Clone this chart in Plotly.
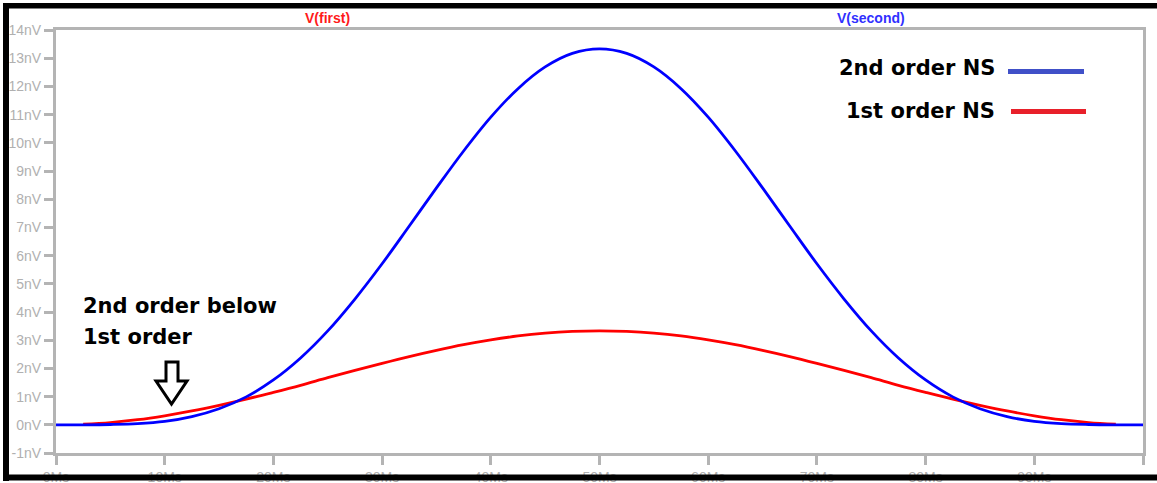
import plotly.graph_objects as go

# ---- data (Ms, nV) ----
x_second = [0, 2.5, 5, 7.5, 10, 12.5, 15, 17.5, 20, 22.5, 25, 27.5, 30, 32.5, 35, 37.5, 40,
            42.5, 45, 47.5, 50, 52.5, 55, 57.5, 60, 62.5, 65, 67.5, 70, 72.5, 75, 77.5, 80,
            82.5, 85, 87.5, 90, 92.5, 95, 97.5, 100]
v_second = [0, 0.00, 0.01, 0.04, 0.12, 0.29, 0.57, 0.99, 1.59, 2.37, 3.33, 4.46, 5.71, 7.05,
            8.40, 9.71, 10.91, 11.92, 12.69, 13.17, 13.33, 13.17, 12.69, 11.92, 10.91, 9.71,
            8.40, 7.05, 5.71, 4.46, 3.33, 2.37, 1.59, 0.99, 0.57, 0.29, 0.12, 0.04, 0.01, 0.00, 0]

x_first = [2.5, 5, 7.5, 10, 12.5, 15, 17.5, 20, 22.5, 25, 27.5, 30, 32.5, 35, 37.5, 40,
           42.5, 45, 47.5, 50, 52.5, 55, 57.5, 60, 62.5, 65, 67.5, 70, 72.5, 75, 77.5, 80,
           82.5, 85, 87.5, 90, 92.5, 95, 97.5]
v_first = [0.02, 0.08, 0.18, 0.32, 0.49, 0.69, 0.91, 1.15, 1.40, 1.67, 1.93, 2.18, 2.42, 2.64,
           2.84, 3.01, 3.15, 3.25, 3.31, 3.33, 3.31, 3.25, 3.15, 3.01, 2.84, 2.64, 2.42, 2.18,
           1.93, 1.67, 1.40, 1.15, 0.91, 0.69, 0.49, 0.32, 0.18, 0.08, 0.02]

x_tick_vals = [0, 10, 20, 30, 40, 50, 60, 70, 80, 90, 100]
x_tick_text = ["0Ms", "10Ms", "20Ms", "30Ms", "40Ms", "50Ms", "60Ms", "70Ms", "80Ms", "90Ms", "100Ms"]
y_tick_vals = [-1, 0, 1, 2, 3, 4, 5, 6, 7, 8, 9, 10, 11, 12, 13, 14]
y_tick_text = ["-1nV", "0nV", "1nV", "2nV", "3nV", "4nV", "5nV", "6nV", "7nV", "8nV",
               "9nV", "10nV", "11nV", "12nV", "13nV", "14nV"]

series_names = ["V(first)", "V(second)"]
legend_labels = ["2nd order NS", "1st order NS"]
note_lines = ["2nd order below", "1st order"]

# ---- layout geometry (pixels) ----
W, H = 1157, 483
L, R, T, B = 56, 1143, 30, 453


def px(xp):
    return (xp - L) / (R - L)


def py(yp):
    return (B - yp) / (B - T)


GRAY = "#b4b4b4"
TICKFONT = dict(family="Liberation Sans, Arial", size=14, color="#b0b0b0")
BIG = dict(family="DejaVu Sans", size=21, color="black")

fig = go.Figure()
fig.add_trace(go.Scatter(x=x_first, y=v_first, mode="lines", name=series_names[0],
                         line=dict(color="#ff0000", width=2.8, shape="spline", smoothing=1.0),
                         showlegend=False, hoverinfo="skip"))
fig.add_trace(go.Scatter(x=x_second, y=v_second, mode="lines", name=series_names[1],
                         line=dict(color="#0000ff", width=2.8, shape="spline", smoothing=1.0),
                         showlegend=False, hoverinfo="skip"))

axis_common = dict(showline=True, linecolor=GRAY, linewidth=3, mirror=True,
                   ticks="outside", ticklen=9, tickwidth=3, tickcolor=GRAY,
                   tickfont=TICKFONT, showgrid=False, zeroline=False, fixedrange=True,
                   automargin=False)

fig.update_xaxes(range=[0, 100], tickmode="array", tickvals=x_tick_vals,
                 ticktext=x_tick_text, **axis_common)
fig.update_yaxes(range=[-1, 14], tickmode="array", tickvals=y_tick_vals,
                 ticktext=y_tick_text, **axis_common)

annotations = [
    dict(text="<b>" + series_names[0] + "</b>", x=px(327), y=py(18), xanchor="center",
         yanchor="middle", font=dict(family="Liberation Sans, Arial", size=14, color="#ff1a1a")),
    dict(text="<b>" + series_names[1] + "</b>", x=px(871), y=py(18), xanchor="center",
         yanchor="middle", font=dict(family="Liberation Sans, Arial", size=14, color="#3030ff")),
    dict(text="<b>" + legend_labels[0] + "</b>", x=px(997), y=py(68), xanchor="right",
         yanchor="middle", font=BIG),
    dict(text="<b>" + legend_labels[1] + "</b>", x=px(997), y=py(111), xanchor="right",
         yanchor="middle", font=BIG),
    dict(text="<b>" + note_lines[0] + "</b>", x=px(81), y=py(306), xanchor="left",
         yanchor="middle", font=BIG),
    dict(text="<b>" + note_lines[1] + "</b>", x=px(81), y=py(337), xanchor="left",
         yanchor="middle", font=BIG),
]
for a in annotations:
    a.update(xref="paper", yref="paper", showarrow=False)

arrow_pts = [(166, 362), (178, 362), (178, 381), (187, 381), (171.5, 404), (156, 381), (166, 381)]
arrow_path = "M " + " L ".join(f"{px(a):.5f},{py(b):.5f}" for a, b in arrow_pts) + " Z"

shapes = [
    # legend swatches
    dict(type="line", x0=px(1008), x1=px(1084), y0=py(71.5), y1=py(71.5),
         line=dict(color="#4050c8", width=5)),
    dict(type="line", x0=px(1011), x1=px(1086), y0=py(111.5), y1=py(111.5),
         line=dict(color="#e8202a", width=5)),
    # arrow
    dict(type="path", path=arrow_path, fillcolor="white", line=dict(color="black", width=3)),
    # black frame
    dict(type="rect", x0=px(3), x1=px(9), y0=py(3), y1=py(481), fillcolor="black", line=dict(width=0)),
    dict(type="rect", x0=px(3), x1=px(W), y0=py(3), y1=py(8.5), fillcolor="black", line=dict(width=0)),
    dict(type="rect", x0=px(3), x1=px(W), y0=py(474.5), y1=py(480.5), fillcolor="black", line=dict(width=0)),
]
for s in shapes:
    s.update(xref="paper", yref="paper", layer="above")

fig.update_layout(width=W, height=H, margin=dict(l=L, r=W - R, t=T, b=H - B, pad=0, autoexpand=False),
                  paper_bgcolor="white", plot_bgcolor="white",
                  annotations=annotations, shapes=shapes, showlegend=False)

fig.write_html("out.html", config={"displayModeBar": False},
               post_script="document.body.style.margin='0px';document.body.style.overflow='hidden';")
